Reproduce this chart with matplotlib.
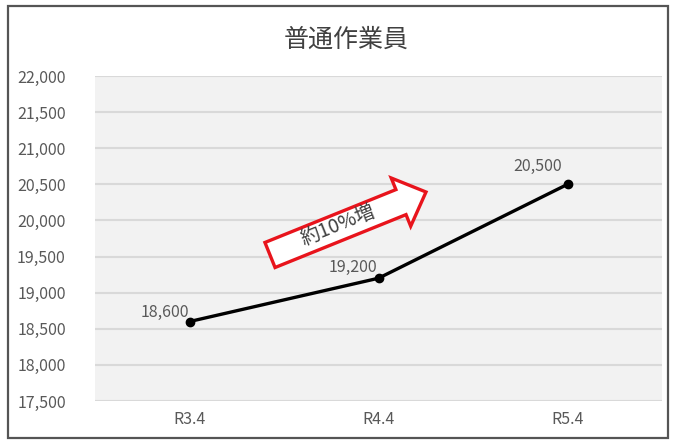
import matplotlib.pyplot as plt
import matplotlib.patches as mpatches
import matplotlib.transforms as mtransforms
import numpy as np

plt.rcParams['font.family'] = ['Noto Sans CJK JP', 'DejaVu Sans']

categories = ['R3.4', 'R4.4', 'R5.4']
wages = [18600, 19200, 20500]
label_offsets = [(-25, 9), (-26, 11), (-30, 18)]  # 数値ラベルの位置(px)

yticks = np.arange(17500, 22001, 500)

W, H = 674, 440
fig = plt.figure(figsize=(W / 100, H / 100), dpi=100)
ax = fig.add_axes([95 / W, 1 - 401 / H, 567 / W, (401 - 76) / H])
ax.set_facecolor('#f2f2f2')

x = np.arange(len(categories))
ax.plot(x, wages, color='black', lw=2.4, marker='o', markersize=6, zorder=3)

for xi, v, (dx, dy) in zip(x, wages, label_offsets):
    ax.annotate(f'{v:,}', (xi, v), xytext=(dx * 0.72, dy * 0.72),
                textcoords='offset points', ha='center', va='center',
                fontsize=11.5, color='#595959')

ax.set_xlim(-0.5, 2.5)
ax.set_ylim(17500, 22000)
ax.set_yticks(yticks)
ax.set_yticklabels([f'{t:,}' for t in yticks])
ax.set_xticks(x)
ax.set_xticklabels(categories)
ax.tick_params(length=0, labelsize=11.5, labelcolor='#595959')
ax.tick_params(axis='y', pad=21)
ax.tick_params(axis='x', pad=7)
ax.grid(axis='y', color='#d9d9d9', lw=1.5)
ax.set_axisbelow(True)
for s in ax.spines.values():
    s.set_visible(False)

fig.text(346 / W, 1 - 40 / H, '普通作業員', ha='center', va='center',
         fontsize=18, color='#404040')

# 増加を示す矢印（画素座標で描く）
px = mtransforms.Affine2D().scale(1 / W, 1 / H) + fig.transFigure
tail = (270, H - 255)
tip = (426, H - 192)
arrow = mpatches.FancyArrow(tail[0], tail[1], tip[0] - tail[0], tip[1] - tail[1],
                            width=27, head_width=52, head_length=27,
                            length_includes_head=True, transform=px,
                            facecolor='white', edgecolor='#e8141c', lw=2.4, zorder=5)
fig.add_artist(arrow)
ang = np.degrees(np.arctan2(tip[1] - tail[1], tip[0] - tail[0]))
fig.text(338 / W, 1 - 225 / H, '約10%増', rotation=ang, rotation_mode='anchor',
         ha='center', va='center', fontsize=14, color='#404040', zorder=6)

# 外枠
fig.add_artist(mpatches.Rectangle((8 / W, 1 - 438 / H), 660 / W, 432 / H,
                                  transform=fig.transFigure, fill=False,
                                  edgecolor='#555555', lw=1.6))

fig.savefig('out.png', dpi=100)
